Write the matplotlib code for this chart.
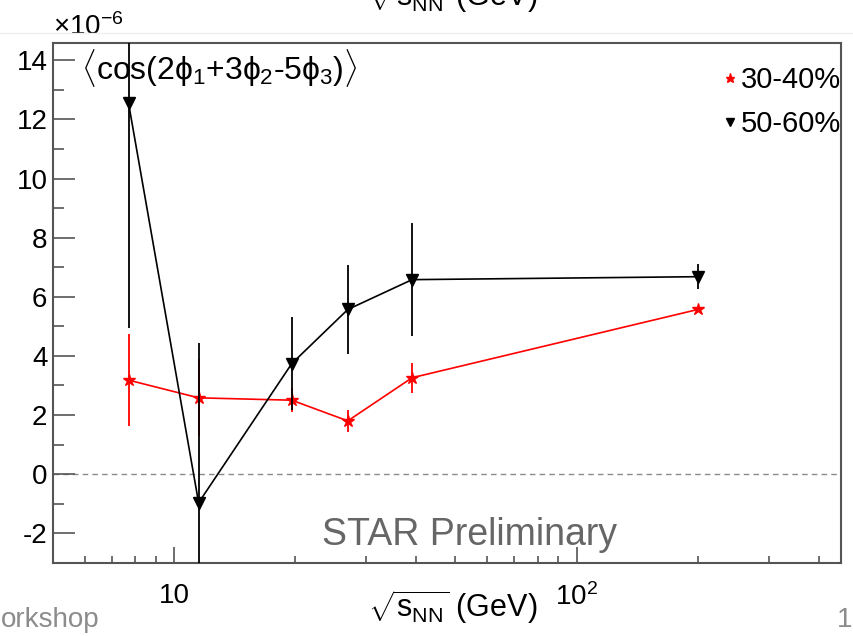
"""sqrt(s_NN) dependence of <cos(2phi1+3phi2-5phi3)> (STAR preliminary style)."""
import matplotlib
matplotlib.use("Agg")
import matplotlib.pyplot as plt
from matplotlib.lines import Line2D
from matplotlib.ticker import FixedLocator, FixedFormatter, NullFormatter

plt.rcParams["font.family"] = ["Liberation Sans", "DejaVu Sans"]
plt.rcParams["mathtext.fontset"] = "custom"
plt.rcParams["mathtext.rm"] = "Liberation Sans"
plt.rcParams["mathtext.it"] = "Liberation Sans"
plt.rcParams["mathtext.sf"] = "Liberation Sans"
plt.rcParams["axes.unicode_minus"] = False

# ── data (values in units of 1e-6) ─────────────────────────────────────────
energy = [7.7, 11.5, 19.6, 27, 39, 200]
c3040 = [3.18, 2.58, 2.50, 1.80, 3.26, 5.57]
c3040_err = [1.56, 1.30, 0.40, 0.37, 0.50, 0.06]
c5060 = [12.56, -0.97, 3.74, 5.57, 6.58, 6.68]
c5060_err = [7.60, 5.40, 1.56, 1.50, 1.92, 0.42]
labels = ["30-40%", "50-60%"]

x_major = [10, 100]
x_major_labels = ["10", "$10^{2}$"]
x_minor = [6, 7, 8, 9, 20, 30, 40, 50, 60, 70, 80, 90, 200, 300, 400]
y_major = [-2, 0, 2, 4, 6, 8, 10, 12, 14]
y_minor = [-3, -1, 1, 3, 5, 7, 9, 11, 13]

frame = "#555555"

fig = plt.figure(figsize=(8.54, 6.36), dpi=100)
ax = fig.add_axes([0.0621, 0.1143, 0.9223, 0.8186])
ax.set_xscale("log")
ax.set_xlim(5.0, 453)
ax.set_ylim(-3.02, 14.6)

# zero line
ax.axhline(0, color="#8a8a8a", lw=1.0, ls=(0, (4, 3)), zorder=1)

# 30-40%
ax.errorbar(energy, c3040, yerr=c3040_err, fmt="none", ecolor="red",
            elinewidth=1.3, capsize=0, zorder=2)
ax.plot(energy, c3040, color="red", lw=1.2, marker="*", ms=9,
        mec="red", mfc="red", zorder=3, label=labels[0])

# 50-60%
ax.errorbar(energy, c5060, yerr=c5060_err, fmt="none", ecolor="black",
            elinewidth=1.3, capsize=0, zorder=4)
ax.plot(energy, c5060, color="black", lw=1.2, marker="v", ms=8,
        mec="black", mfc="black", zorder=5, label=labels[1])

# ── axes styling (ROOT look) ───────────────────────────────────────────────
for side in ["left", "right", "top", "bottom"]:
    ax.spines[side].set_color(frame)
    ax.spines[side].set_linewidth(1.5)

ax.xaxis.set_major_locator(FixedLocator(x_major))
ax.xaxis.set_major_formatter(FixedFormatter(x_major_labels))
ax.xaxis.set_minor_locator(FixedLocator(x_minor))
ax.xaxis.set_minor_formatter(NullFormatter())
ax.yaxis.set_major_locator(FixedLocator(y_major))
ax.yaxis.set_minor_locator(FixedLocator(y_minor))

ax.tick_params(axis="x", which="major", direction="in", length=11.5, width=1.2,
               color=frame, labelsize=20, pad=14)
ax.tick_params(axis="x", which="minor", direction="in", length=5, width=1.2,
               color=frame)
ax.tick_params(axis="y", which="major", direction="in", length=16, width=1.2,
               color=frame, labelsize=20, pad=4)
ax.tick_params(axis="y", which="minor", direction="in", length=8, width=1.2,
               color=frame)

ax.set_xlabel(r"$\sqrt{s_{\mathrm{NN}}}$ (GeV)", fontsize=22, ha="center", va="top")
ax.xaxis.set_label_coords(0.508, -0.048)

ax.text(0.0, 1.003, r"$\times$10$^{-6}$", transform=ax.transAxes,
        fontsize=20, ha="left", va="bottom")
ax.text(0.036, 0.952, r"$\langle$cos(2$\phi_{1}$+3$\phi_{2}$-5$\phi_{3}$)$\rangle$",
        transform=ax.transAxes, fontsize=23, ha="left", va="center")
ax.text(0.342, 0.035, "STAR Preliminary", transform=ax.transAxes,
        fontsize=27, color="#666666", ha="left", va="baseline")

ax.legend(loc="upper right", bbox_to_anchor=(1.0, 0.955), frameon=False,
          fontsize=21, handlelength=0.4, handletextpad=0.15, labelspacing=0.55,
          borderaxespad=0.0, borderpad=0.0, markerscale=0.75)
for h in ax.get_legend().legend_handles:
    h.set_linestyle("none")

# ── slide remnants around the plot ─────────────────────────────────────────
fig.add_artist(Line2D([0, 1], [1 - 33 / 636, 1 - 33 / 636], color="#efefef", lw=1))
fig.text(453 / 854, 1 - 6 / 636, r"$\sqrt{s_{\mathrm{NN}}}$ (GeV)", fontsize=22,
         ha="center", va="baseline")
fig.text(1 / 854, 1 - 627 / 636, "orkshop", fontsize=20, color="#8c8c8c",
         ha="left", va="baseline")
fig.text(852 / 854, 1 - 627 / 636, "1", fontsize=20, color="#8c8c8c",
         ha="right", va="baseline")

fig.savefig("out.png", dpi=100)
plt.close()
